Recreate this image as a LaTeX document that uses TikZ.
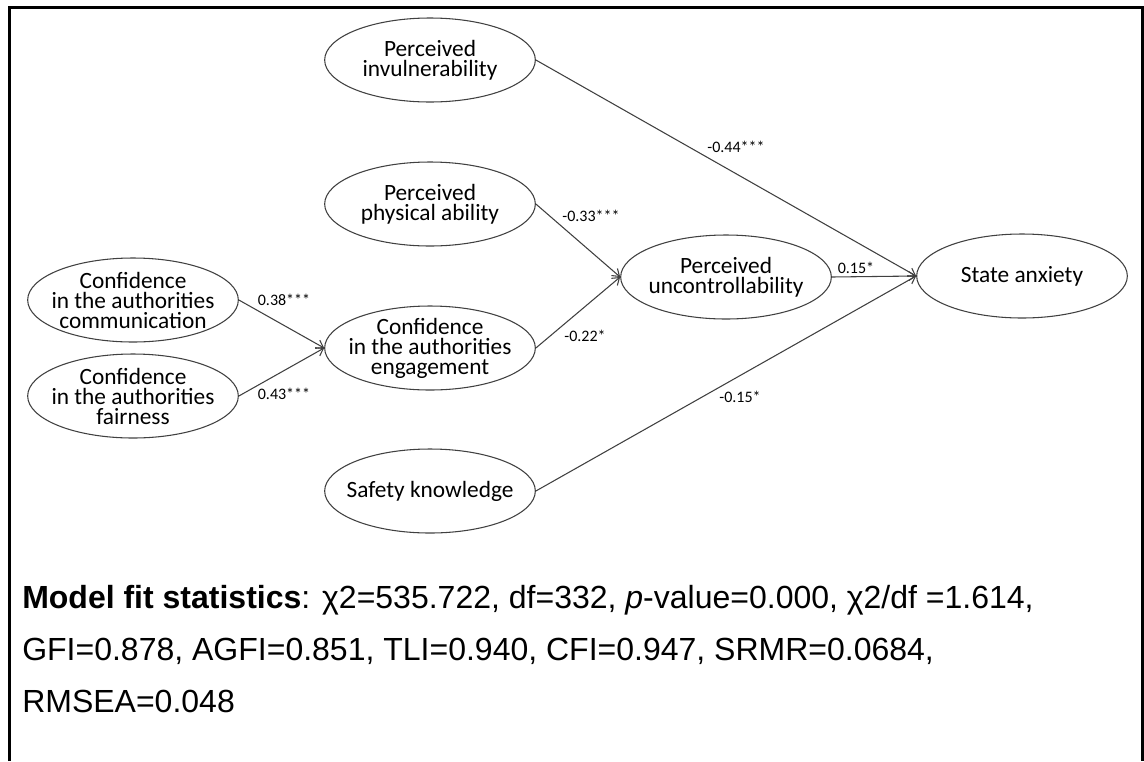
\documentclass[tikz,border=0pt]{standalone}
\usepackage{fontspec}
\setmainfont{Carlito}
\newfontfamily\arialfont{Liberation Sans}
\usetikzlibrary{shapes.geometric,arrows.meta}

\begin{document}
\begin{tikzpicture}[x=0.75pt, y=-0.75pt,
	latent/.style={ellipse, draw=black!75, line width=0.8pt, minimum width=158pt, minimum height=63pt,
		inner xsep=-30pt, inner ysep=-2pt, align=center, font=\fontsize{17.5}{15}\selectfont},
	coef/.style={inner sep=0pt, font=\fontsize{12}{14}\selectfont},
	regr/.style={draw=black!75, line width=0.8pt, -{Straight Barb[length=5pt,width=7pt]}},
	fitline/.style={anchor=base west, inner sep=0pt, font=\arialfont\fontsize{24}{28}\selectfont}]
	\useasboundingbox (0,0) rectangle (1144,761);
	% open frame round the model
	\draw[line width=2.25pt] (9,761) -- (9,7.5) -- (1142,7.5) -- (1142,761);

	% latent variables
	\node[latent] (inv) at (430,60) {Perceived\\invulnerability};
	\node[latent] (phys) at (430,204) {Perceived\\physical ability};
	\node[latent] (comm) at (133,300) {Confidence\\in the authorities\\communication};
	\node[latent] (fair) at (133,396) {Confidence\\in the authorities\\fairness};
	\node[latent] (eng) at (430,348) {Confidence\\in the authorities\\engagement};
	\node[latent] (unc) at (726,277) {Perceived\\uncontrollability};
	\node[latent] (anx) at (1022,276) {State anxiety};
	\node[latent] (safe) at (430,491) {Safety knowledge};

	% paths
	\draw[regr] (comm.east) -- (eng.west);
	\draw[regr] (fair.east) -- (eng.west);
	\draw[regr] (phys.east) -- (unc.west);
	\draw[regr] (eng.east) -- (unc.west);
	\draw[regr] (inv.east) -- (anx.west);
	\draw[regr] (unc.east) -- (anx.west);
	\draw[regr] (safe.east) -- (anx.west);

	% standardised coefficients
	\node[coef] (bcomm) at (284,300) {0.38***};
	\node[coef] (bfair) at (284,394) {0.43***};
	\node[coef] (bphys) at (591,216) {-0.33***};
	\node[coef] (beng) at (585,336) {-0.22*};
	\node[coef] (binv) at (736,147) {-0.44***};
	\node[coef] (bunc) at (856,268) {0.15*};
	\node[coef] (bsafe) at (740,397) {-0.15*};

	% fit indices
	\node[fitline] (fit1) at (22,608) {\textbf{Model fit statistics}: χ2=535.722, df=332, \textit{p}-value=0.000, χ2/df =1.614,};
	\node[fitline] (fit2) at (22,660) {GFI=0.878, AGFI=0.851, TLI=0.940, CFI=0.947, SRMR=0.0684,};
	\node[fitline] (fit3) at (22,712) {RMSEA=0.048};
\end{tikzpicture}
\end{document}
